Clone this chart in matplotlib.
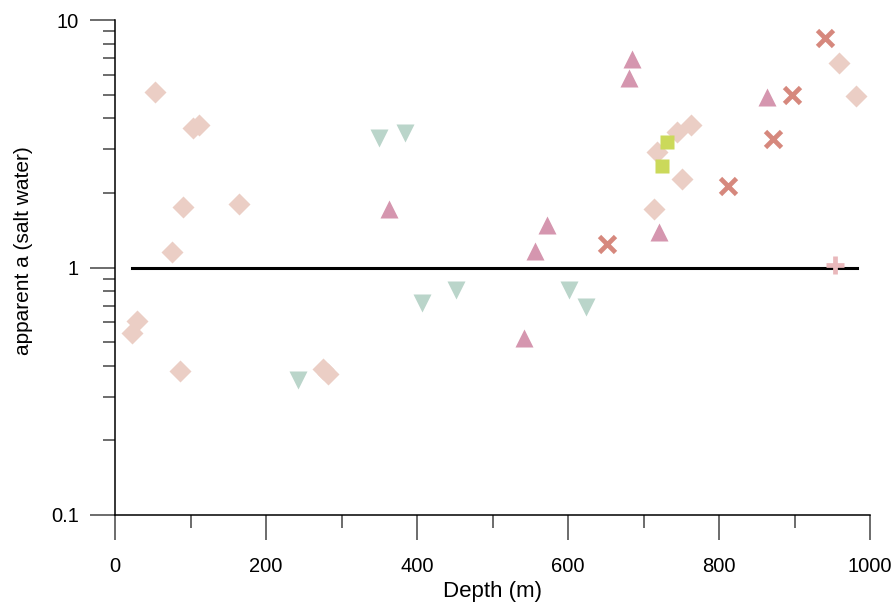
import matplotlib
matplotlib.use("Agg")
import matplotlib.pyplot as plt
from matplotlib.ticker import FixedLocator, NullFormatter, FixedFormatter, LogLocator

plt.rcParams['font.family'] = ['Liberation Sans', 'DejaVu Sans']

# Data
diamond_x = [53, 103, 111, 90, 164, 75, 29, 23, 86, 275, 282, 718, 744, 763, 751, 714, 959, 981]
diamond_y = [5.11, 3.65, 3.76, 1.75, 1.80, 1.15, 0.61, 0.545, 0.383, 0.39, 0.37, 2.92, 3.52, 3.76, 2.27, 1.72, 6.7, 4.92]

square_x = [731, 724]
square_y = [3.21, 2.56]

tri_up_x = [685, 681, 863, 720, 363, 572, 556, 542]
tri_up_y = [6.95, 5.83, 4.88, 1.39, 1.73, 1.49, 1.17, 0.52]

tri_down_x = [350, 384, 407, 452, 601, 624, 242]
tri_down_y = [3.33, 3.49, 0.72, 0.81, 0.81, 0.69, 0.35]

cross_x = [940, 897, 872, 812, 652]
cross_y = [8.44, 4.97, 3.30, 2.13, 1.25]

plus_x = [954]
plus_y = [1.02]

ref_x = [22, 983]
ref_y = [1, 1]

fig = plt.figure(figsize=(8.96, 6.04), dpi=100)
ax = fig.add_axes([115/896, 1-515/604, (870-115)/896, (515-20)/604])

ax.plot(ref_x, ref_y, color='black', lw=2.2, zorder=1)
ax.plot(diamond_x, diamond_y, ls='none', marker='D', ms=11.5, color='#EBCEC5', mec='none', zorder=2)
ax.plot(tri_down_x, tri_down_y, ls='none', marker='v', ms=13, color='#BAD5CA', mec='none', zorder=2)
ax.plot(tri_up_x, tri_up_y, ls='none', marker='^', ms=13, color='#D596AF', mec='none', zorder=2)
ax.plot(square_x, square_y, ls='none', marker='s', ms=10.5, color='#CBD95A', mec='none', zorder=3)
ax.plot(cross_x, cross_y, ls='none', marker='x', ms=12, mew=3.4, color='#D6887D', zorder=3)
ax.plot(plus_x, plus_y, ls='none', marker='+', ms=13, mew=3.4, color='#E9B8BB', zorder=3)

ax.set_yscale('log')
ax.set_xlim(0, 1000)
ax.set_ylim(0.1, 10)

ax.xaxis.set_major_locator(FixedLocator([0, 200, 400, 600, 800, 1000]))
ax.xaxis.set_minor_locator(FixedLocator([100, 300, 500, 700, 900]))
ax.yaxis.set_major_locator(FixedLocator([0.1, 1, 10]))
ax.yaxis.set_major_formatter(FixedFormatter(['0.1', '1', '10']))
ax.yaxis.set_minor_locator(LogLocator(base=10, subs=range(2, 10)))
ax.yaxis.set_minor_formatter(NullFormatter())

for s in ['top', 'right']:
    ax.spines[s].set_visible(False)
for s in ['left', 'bottom']:
    ax.spines[s].set_linewidth(1.1)
    ax.spines[s].set_color('black')

ax.tick_params(axis='both', which='major', direction='out', length=18, width=1.1, color='#444444', labelsize=14.5)
ax.tick_params(axis='both', which='minor', direction='out', length=9, width=1.1, color='#444444')
ax.tick_params(axis='x', which='major', pad=12)
ax.tick_params(axis='y', which='major', pad=8)

ax.set_xlabel('Depth (m)', fontsize=16, labelpad=4)
ax.set_ylabel('apparent a (salt water)', fontsize=15)
ax.yaxis.set_label_coords(-0.108, 0.535)

fig.savefig('out.png', dpi=100)
